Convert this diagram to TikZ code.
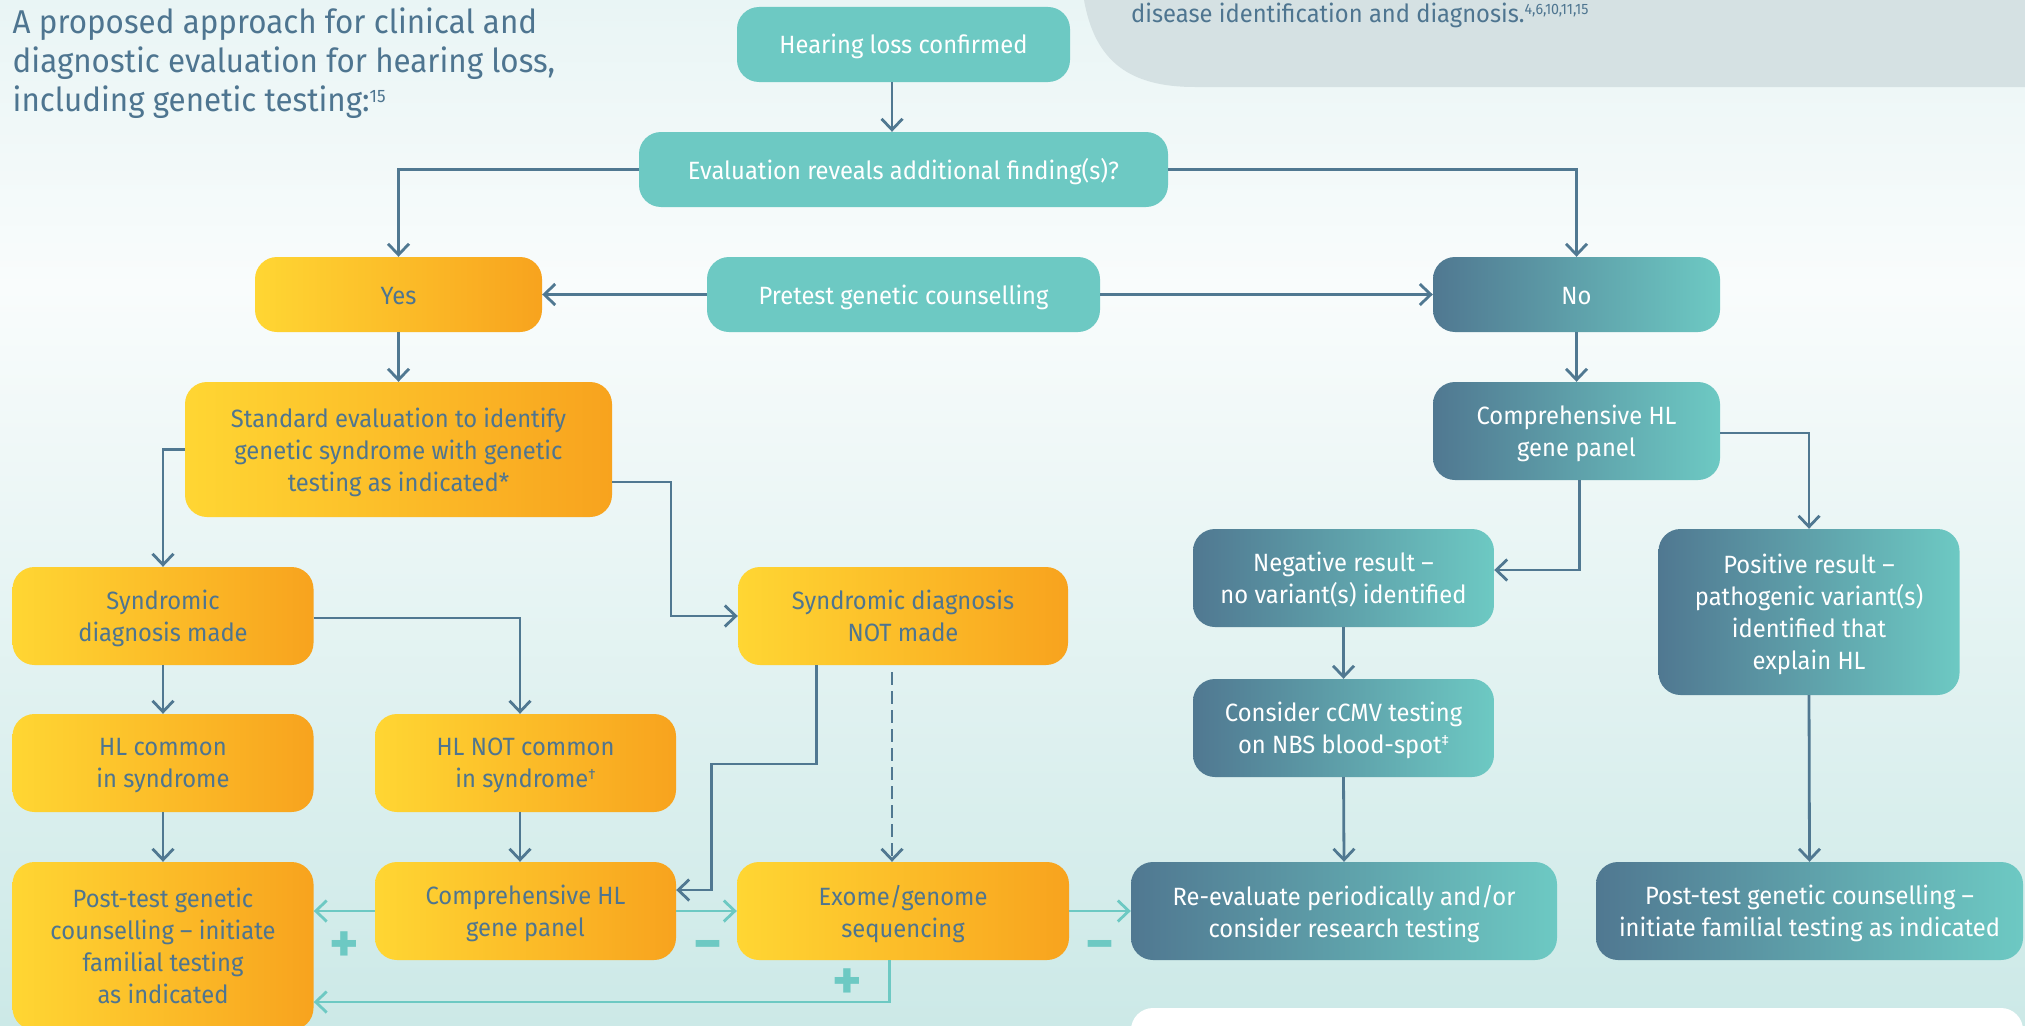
\documentclass[tikz,border=0pt]{standalone}
\usepackage{fontspec}
\setmainfont{Fira Sans}[FakeStretch=0.95]
\newfontfamily\pmfont{Fira Sans}
\usetikzlibrary{arrows.meta,calc}
\definecolor{txt}{RGB}{78,117,144}
\definecolor{lc}{RGB}{80,120,145}
\definecolor{hlteal}{RGB}{109,201,195}
\definecolor{dblue}{RGB}{80,120,145}
\definecolor{yel}{RGB}{255,214,51}
\definecolor{orng}{RGB}{248,163,30}
\definecolor{greyreg}{RGB}{213,225,227}
\definecolor{bgtop}{RGB}{233,245,245}
\definecolor{bgwhite}{RGB}{249,252,252}
\definecolor{bgbot}{RGB}{204,233,231}
\pgfdeclareverticalshading{bgshade}{100bp}{color(0bp)=(bgbot); color(25bp)=(bgbot); color(61bp)=(bgwhite); color(75bp)=(bgtop); color(100bp)=(bgtop)}
\newcommand\boxfont{\fontsize{25}{32}\selectfont}
\newcommand\titlefont{\fontsize{33}{39}\selectfont}
\newcommand\supx[3]{\raisebox{#2pt}{\fontsize{#1}{#1}\selectfont #3}}
\begin{document}
\begin{tikzpicture}[x=1pt,y=-1pt,
  base/.style={rounded corners=22pt, align=center, inner sep=0pt, font=\boxfont,
    execute at begin node={\rule{0pt}{26pt}}, execute at end node={\rule[-7pt]{0pt}{0pt}}},
  ml/.style={text depth=0pt},
  tbox/.style={base, fill=hlteal, text=white},
  bbox/.style={base, left color=dblue, right color=hlteal, text=white},
  ybox/.style={base, left color=yel, right color=orng, text=txt},
  sz/.style 2 args={minimum width=#1pt, minimum height=#2pt},
  arr/.style={draw=lc, line width=2.8pt, -{Straight Barb[length=11pt,width=21pt]}},
  tarr/.style={draw=hlteal, line width=2.8pt, -{Straight Barb[length=11pt,width=21pt]}},
  pm/.style={text=hlteal, font=\pmfont\bfseries\fontsize{56}{56}\selectfont, inner sep=0pt, text height=37pt, text depth=0pt}]
\useasboundingbox (0,0) rectangle (2025,1025);
\clip (0,0) rectangle (2025,1025);
\shade[shading=bgshade] (0,0) rectangle (2025,1025);
\fill[greyreg] (1084,0) .. controls (1095,62) and (1130,87) .. (1195,87) -- (2025,87) -- (2025,0) -- cycle;
\fill[white, rounded corners=22pt] (1131,1008) rectangle (2023,1080);

\node[anchor=north west, align=left, inner sep=0pt, text=txt, font=\titlefont] (title) at (12.5,8)
  {A proposed approach for clinical and\\diagnostic evaluation for hearing loss,\\including genetic testing:\supx{18}{9}{15}};
\node[anchor=base west, inner sep=0pt, text=txt, font=\boxfont] (dis) at (1131,23)
  {disease identification and diagnosis.\supx{15}{8}{4,6,10,11,15}};

\node[tbox, sz={333}{75}] (hear) at (903.5,44.5) {Hearing loss confirmed};
\node[tbox, sz={529}{75}] (eval) at (903.5,169.5) {Evaluation reveals additional finding(s)?};
\node[tbox, sz={393}{75}] (pre) at (903.5,294.5) {Pretest genetic counselling};
\node[ybox, sz={287}{75}] (yes) at (398.5,294.5) {Yes};
\node[bbox, sz={287}{75}] (no) at (1576.5,294.5) {No};
\node[ybox, ml, sz={427}{135}] (std) at (398.5,449.5) {Standard evaluation to identify\\genetic syndrome with genetic\\testing as indicated*};
\node[bbox, ml, sz={287}{98}] (crt) at (1576.5,431) {Comprehensive HL\\gene panel};
\node[ybox, ml, sz={301}{98}] (sm) at (163,616) {Syndromic\\diagnosis made};
\node[ybox, ml, sz={330}{98}] (snm) at (903,616) {Syndromic diagnosis\\NOT made};
\node[bbox, ml, sz={301}{98}] (neg) at (1343.5,578) {Negative result –\\no variant(s) identified};
\node[bbox, ml, sz={301}{166}] (pos) at (1809,612) {Positive result –\\pathogenic variant(s)\\identified that\\explain HL};
\node[ybox, ml, sz={301}{98}] (hlc) at (163,763) {HL common\\in syndrome};
\node[ybox, ml, sz={301}{98}] (hlnc) at (525.5,763) {HL NOT common\\in syndrome\supx{15}{8}{†}};
\node[bbox, ml, sz={301}{98}] (cmv) at (1343.5,728) {Consider cCMV testing\\on NBS blood-spot\supx{15}{8}{‡}};
\node[ybox, ml, sz={301}{168}] (ptl) at (163,946) {Post-test genetic\\counselling – initiate\\familial testing\\as indicated};
\node[ybox, ml, sz={301}{98}] (cl) at (525.5,911) {Comprehensive HL\\gene panel};
\node[ybox, ml, sz={332}{98}] (ex) at (903,911) {Exome/genome\\sequencing};
\node[bbox, ml, sz={426}{98}] (re) at (1344,911) {Re-evaluate periodically and/or\\consider research testing};
\node[bbox, ml, sz={427}{98}] (ptr) at (1809.5,911) {Post-test genetic counselling –\\initiate familial testing as indicated};

\coordinate (k1) at (671,616);
\coordinate (k2) at (711.7,764);

\draw[arr] ([xshift=-11.5pt]hear.south) -- ([xshift=-11.5pt]eval.north);
\draw[arr] (eval.west) -| (yes.north);
\draw[arr] (eval.east) -| (no.north);
\draw[arr] (pre.west) -- (yes.east);
\draw[arr] (pre.east) -- (no.west);
\draw[arr] (yes.south) -- (std.north);
\draw[arr] (std.west) -| (sm.north);
\draw[arr] ([yshift=-32.5pt]std.east) -| (k1) -- (snm.west);
\draw[arr] ([yshift=-2pt]sm.east) -| ([xshift=-5.5pt]hlnc.north);
\draw[arr] (sm.south) -- (hlc.north);
\draw[arr] (hlc.south) -- (ptl.north);
\draw[arr] ([xshift=-5.5pt]hlnc.south) -- ([xshift=-5.5pt]cl.north);
\draw[arr] ([xshift=-86.3pt]snm.south) |- (k2) |- ([yshift=21pt]cl.east);
\draw[arr, dash pattern=on 13pt off 6pt] ([xshift=-11pt,yshift=-7pt]snm.south) -- ([xshift=-11pt]ex.north);
\draw[arr] (no.south) -- (crt.north);
\draw[arr] ([xshift=3pt]crt.south) |- ([yshift=8pt]neg.east);
\draw[arr] ([yshift=-2pt]crt.east) -| (pos.north);
\draw[arr] (neg.south) -- (cmv.north);
\draw[arr] (cmv.south) -- (re.north);
\draw[arr] (pos.south) -- (ptr.north);

\draw[tarr] (cl.west) -- (ptl.east |- cl.west);
\draw[tarr] (cl.east) -- (ex.west);
\draw[tarr] (ex.east) -- (re.west);
\draw[tarr] ([xshift=-13.5pt]ex.south) |- ([yshift=-56pt]ptl.east);

\node[pm] (p1) at (344,944) {+};
\node[pm] (m1) at (708,944) {−};
\node[pm] (p2) at (847,981) {+};
\node[pm] (m2) at (1100,944) {−};
\end{tikzpicture}
\end{document}
